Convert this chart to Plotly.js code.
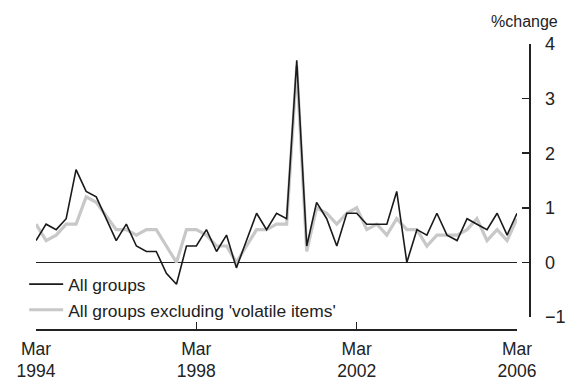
<!DOCTYPE html>
<html>
<head>
<meta charset="utf-8">
<script src="https://cdn.plot.ly/plotly-3.0.1.min.js"></script>
<style>html,body{margin:0;padding:0;background:#fff;}#chart{width:565px;height:383px;}</style>
</head>
<body>
<div id="chart"></div>
<script>
// Quarterly, Mar 1994 to Mar 2006
const startYear = 1994;
const nQuarters = 49;
const quarters = [];
for (let i = 0; i < nQuarters; i++) {
  const y = startYear + Math.floor(i / 4);
  const m = [3, 6, 9, 12][i % 4];
  quarters.push(y + '-' + String(m).padStart(2, '0') + '-15');
}
const allGroups = [
  0.4, 0.7, 0.6, 0.8, 1.7, 1.3, 1.2, 0.8, 0.4, 0.7,
  0.3, 0.2, 0.2, -0.2, -0.4, 0.3, 0.3, 0.6, 0.2, 0.5,
  -0.1, 0.4, 0.9, 0.6, 0.9, 0.8, 3.7, 0.3, 1.1, 0.8,
  0.3, 0.9, 0.9, 0.7, 0.7, 0.7, 1.3, 0.0, 0.6, 0.5,
  0.9, 0.5, 0.4, 0.8, 0.7, 0.6, 0.9, 0.5, 0.9
];
const exVolatile = [
  0.7, 0.4, 0.5, 0.7, 0.7, 1.2, 1.1, 0.85, 0.6, 0.6,
  0.5, 0.6, 0.6, 0.3, 0.0, 0.6, 0.6, 0.5, 0.3, 0.3,
  0.0, 0.3, 0.6, 0.6, 0.7, 0.7, 3.6, 0.2, 1.0, 0.9,
  0.7, 0.9, 1.0, 0.6, 0.7, 0.5, 0.8, 0.6, 0.6, 0.3,
  0.5, 0.5, 0.5, 0.6, 0.8, 0.4, 0.6, 0.4, 0.8
];
const tickVals = ['1994-03-15', '1998-03-15', '2002-03-15', '2006-03-15'];
const tickText = ['Mar<br>1994', 'Mar<br>1998', 'Mar<br>2002', 'Mar<br>2006'];
const yTickVals = [-1, 0, 1, 2, 3, 4];
const yTickText = ['\u22121', '0', '1', '2', '3', '4'];
const seriesNames = ['All groups', "All groups excluding 'volatile items'"];

const FONT = 'Liberation Sans, Arial, sans-serif';
const INK = '#222';

const traces = [
  {x: quarters, y: exVolatile, name: seriesNames[1], type: 'scatter', mode: 'lines',
   line: {color: '#c8c8c8', width: 3.2}, legendrank: 2},
  {x: quarters, y: allGroups, name: seriesNames[0], type: 'scatter', mode: 'lines',
   line: {color: '#1a1a1a', width: 1.6}, legendrank: 1}
];

const W = 565, H = 383;
const mLeft = 36, axisX = 529, plotRight = 517;
const mTop = 44, mBottom = 54;
const layout = {
  width: W, height: H,
  paper_bgcolor: '#fff', plot_bgcolor: '#fff',
  margin: {l: mLeft, r: W - axisX, t: mTop, b: mBottom},
  showlegend: true,
  legend: {x: -0.024, y: 0.22, xanchor: 'left', yanchor: 'top', itemwidth: 34,
           font: {family: FONT, size: 17.4, color: INK}, bgcolor: 'rgba(0,0,0,0)',
           traceorder: 'normal'},
  xaxis: {
    type: 'date',
    domain: [0, (plotRight - mLeft) / (axisX - mLeft)],
    range: ['1994-03-15', '2006-03-15'],
    tickvals: tickVals, ticktext: tickText,
    ticks: 'inside', ticklen: 7, tickwidth: 1.5, tickcolor: INK,
    showline: true, linecolor: INK, linewidth: 1.5,
    showgrid: false, zeroline: false,
    anchor: 'free', position: 0,
    tickfont: {family: FONT, size: 17.5, color: INK},
    ticklabelstandoff: 3
  },
  yaxis: {
    domain: [12 / (H - mTop - mBottom), 1],
    range: [-1, 4], tickvals: yTickVals, ticktext: yTickText,
    side: 'right', anchor: 'free', position: 1,
    ticks: 'inside', ticklen: 7, tickwidth: 1.5, tickcolor: INK,
    showline: true, linecolor: INK, linewidth: 1.5,
    showgrid: false,
    zeroline: true, zerolinecolor: INK, zerolinewidth: 1.5,
    tickfont: {family: FONT, size: 18, color: INK},
    ticklabelstandoff: 11
  },
  annotations: [
    {text: '%change', xref: 'paper', yref: 'paper', x: 1.063, y: 1, xanchor: 'right', yanchor: 'bottom',
     yshift: 12, showarrow: false, font: {family: FONT, size: 16, color: INK}}
  ]
};

Plotly.newPlot('chart', traces, layout, {displayModeBar: false, staticPlot: true});
</script>
</body>
</html>
